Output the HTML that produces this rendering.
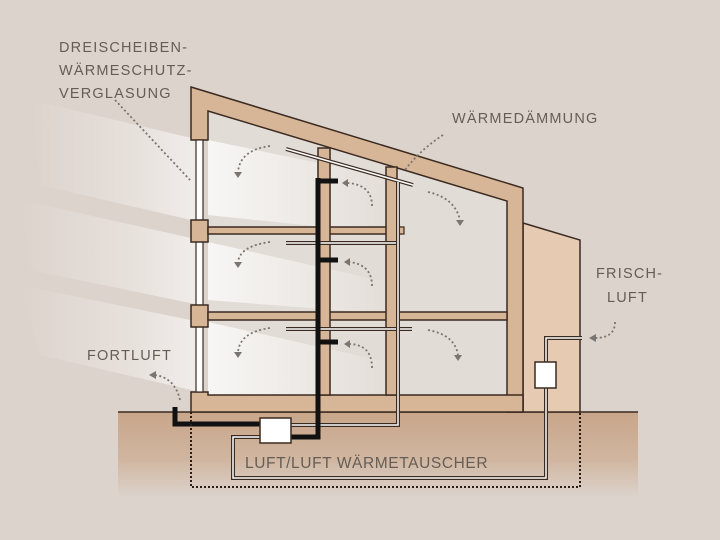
<!DOCTYPE html>
<html><head><meta charset="utf-8"><style>
html,body{margin:0;padding:0;width:720px;height:540px;overflow:hidden;background:#dcd3cc}
svg{display:block}
text{font-family:"Liberation Sans",sans-serif;fill:#655d56;font-size:14.5px;letter-spacing:1.2px}
</style></head><body>
<svg width="720" height="540" viewBox="0 0 720 540" xmlns="http://www.w3.org/2000/svg">
<defs>
<linearGradient id="lb" x1="0" y1="0" x2="1" y2="0">
<stop offset="0" stop-color="#fff" stop-opacity="0"/>
<stop offset="0.6" stop-color="#fff" stop-opacity="0.3"/>
<stop offset="1" stop-color="#fff" stop-opacity="0.6"/>
</linearGradient>
<linearGradient id="lb2" x1="0" y1="0" x2="1" y2="0">
<stop offset="0" stop-color="#fff" stop-opacity="0.75"/>
<stop offset="1" stop-color="#fff" stop-opacity="0"/>
</linearGradient>
<linearGradient id="gr" x1="0" y1="0" x2="0" y2="1">
<stop offset="0" stop-color="#c8a68a"/>
<stop offset="0.55" stop-color="#d0b59f"/>
<stop offset="1" stop-color="#dcd3cc"/>
</linearGradient>
</defs>
<rect width="720" height="540" fill="#dcd3cc"/>
<!-- ground -->
<rect x="118" y="412" width="520" height="85" fill="url(#gr)"/>
<line x1="118" y1="412" x2="638" y2="412" stroke="#3a2a20" stroke-width="1.5"/>
<!-- annex -->
<polygon points="523,223 580,240 580,412 523,412" fill="#e6cbb2" stroke="#3a2a20" stroke-width="1.5"/>
<!-- interior -->
<polygon points="208,111 507,201 507,395 208,395" fill="#e2dcd6"/>
<!-- light bands -->
<polygon points="30,100 200,140 200,222 40,185" fill="url(#lb)"/>
<polygon points="20,200 200,240 200,305 30,270" fill="url(#lb)"/>
<polygon points="20,285 200,322 200,392 40,355" fill="url(#lb)"/>
<polygon points="208,140 400,180 400,235 208,215" fill="url(#lb2)"/>
<polygon points="208,242 400,285 400,315 208,300" fill="url(#lb2)"/>
<polygon points="208,322 400,365 400,395 208,395" fill="url(#lb2)"/>
<!-- roof & walls -->
<path d="M191,87 L523,188 L523,412 L507,412 L507,201 L208,111 L208,140 L191,140 Z" fill="#d7b597" stroke="#3a2a20" stroke-width="1.5"/>
<!-- bottom slab -->
<path d="M191,392 L191,412 L523,412 L523,395 L208,395 L208,392 Z" fill="#d7b597" stroke="#3a2a20" stroke-width="1.5"/>
<!-- glass column -->
<rect x="196" y="140" width="7" height="252" fill="#fff" stroke="#3a2a20" stroke-width="1.2"/>
<!-- floor blocks -->
<rect x="191" y="220" width="17" height="22" fill="#d7b597" stroke="#3a2a20" stroke-width="1.5"/>
<rect x="191" y="305" width="17" height="22" fill="#d7b597" stroke="#3a2a20" stroke-width="1.5"/>
<!-- beams -->
<rect x="208" y="227" width="192" height="7" fill="#d7b597" stroke="#3a2a20" stroke-width="1.5"/>
<rect x="397" y="227" width="7" height="7" fill="#d7b597" stroke="#3a2a20" stroke-width="1.2"/>
<rect x="208" y="312" width="299" height="8" fill="#d7b597" stroke="#3a2a20" stroke-width="1.5"/>
<!-- posts -->
<rect x="318" y="148" width="12" height="247" fill="#d7b597" stroke="#3a2a20" stroke-width="1.5"/>
<rect x="386" y="167" width="11" height="228" fill="#d7b597" stroke="#3a2a20" stroke-width="1.5"/>
<!-- supply distribution double lines -->
<g stroke="#3a2a20" stroke-width="4"><line x1="286" y1="149" x2="413" y2="185"/><line x1="286" y1="243" x2="398" y2="243"/><line x1="286" y1="329" x2="412" y2="329"/></g>
<g stroke="#fff" stroke-width="1.5"><line x1="286" y1="149" x2="413" y2="185"/><line x1="286" y1="243" x2="398" y2="243"/><line x1="286" y1="329" x2="412" y2="329"/></g>
<!-- supply pipe -->
<path d="M398,182 L398,425 L291,425" fill="none" stroke="#3a2a20" stroke-width="4"/>
<path d="M398,182 L398,425 L291,425" fill="none" stroke="#fff" stroke-width="1.5"/>
<!-- supply loop outside -->
<path d="M260,437 L233,437 L233,478 L546,478 L546,338 L582,338" fill="none" stroke="#3a2a20" stroke-width="4"/>
<path d="M260,437 L233,437 L233,478 L546,478 L546,338 L582,338" fill="none" stroke="#fff" stroke-width="1.5"/>
<!-- exhaust black duct -->
<path d="M318,178 L318,437 L291,437" fill="none" stroke="#111" stroke-width="5"/>
<g stroke="#111" stroke-width="5"><line x1="318" y1="181" x2="338" y2="181"/><line x1="318" y1="260" x2="338" y2="260"/><line x1="318" y1="342" x2="338" y2="342"/></g>
<path d="M260,424 L175,424 L175,407" fill="none" stroke="#111" stroke-width="5"/>
<!-- boxes -->
<rect x="260" y="418" width="31" height="25" fill="#fff" stroke="#3a2a20" stroke-width="1.5"/>
<rect x="535" y="362" width="21" height="26" fill="#fff" stroke="#3a2a20" stroke-width="1.5"/>
<!-- dotted rectangle -->
<path d="M191,412 L191,487 L580,487 L580,412" fill="none" stroke="#2a1d15" stroke-width="2" stroke-dasharray="2,2"/>
<!-- dotted arrows -->
<g fill="none" stroke="#7b7470" stroke-width="1.8" stroke-dasharray="2,2.5">
<path d="M270,146 Q240,150 238,172"/><path d="M270,242 Q240,246 238,262"/><path d="M270,328 Q240,332 238,352"/>
<path d="M372,206 Q372,185 348,183"/><path d="M372,286 Q372,265 350,262"/><path d="M372,368 Q372,345 350,344"/>
<path d="M428,192 Q455,198 460,220"/><path d="M428,330 Q455,335 458,355"/>
<path d="M180,400 Q175,378 155,375"/>
<path d="M115,100 L190,180"/><path d="M443,135 Q420,150 405,170"/>
<path d="M615,322 Q615,338 595,338"/>
</g>
<g fill="#7b7470">
<polygon points="234,172 242,172 238,178"/><polygon points="234,262 242,262 238,268"/><polygon points="234,352 242,352 238,358"/>
<polygon points="342,183 348,179 348,187"/><polygon points="344,262 350,258 350,266"/><polygon points="344,344 350,340 350,348"/>
<polygon points="456,220 464,220 460,226"/><polygon points="454,355 462,355 458,361"/>
<polygon points="149,375 156,371 156,379"/><polygon points="589,338 596,334 596,342"/>
</g>
<!-- labels -->
<text x="59" y="52">DREISCHEIBEN-</text>
<text x="59" y="75">WÄRMESCHUTZ-</text>
<text x="59" y="98">VERGLASUNG</text>
<text x="452" y="123">WÄRMEDÄMMUNG</text>
<text x="596" y="278">FRISCH-</text>
<text x="607" y="302">LUFT</text>
<text x="87" y="360">FORTLUFT</text>
<text x="245" y="468" style="font-size:15.5px;letter-spacing:0.6px">LUFT/LUFT WÄRMETAUSCHER</text>
</svg>
</body></html>
